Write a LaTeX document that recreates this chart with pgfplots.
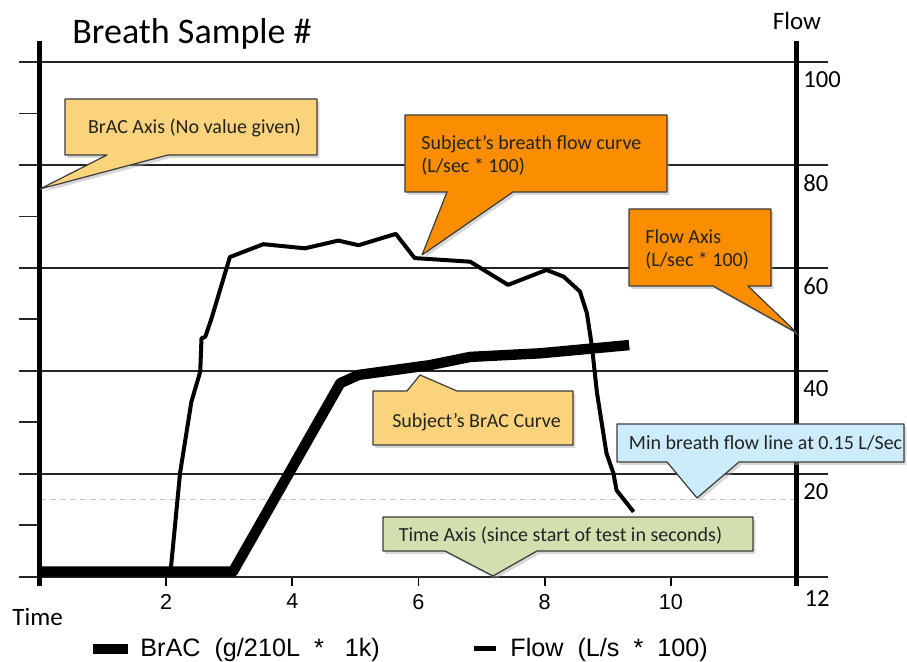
\documentclass[border=0pt]{standalone}
\usepackage{pgfplots}
\pgfplotsset{compat=1.18}
\usepackage{fontspec}
\setmainfont{Carlito}
\newfontfamily\arial{Liberation Sans}
\definecolor{lorange}{RGB}{252,211,125}
\definecolor{dorange}{RGB}{250,142,0}
\definecolor{lblue}{RGB}{204,236,252}
\definecolor{lgreen}{RGB}{210,224,176}
\definecolor{txt}{RGB}{35,35,35}
\definecolor{edge}{RGB}{60,60,60}
\begin{document}
\begin{tikzpicture}
\begin{axis}[
  x=31.54pt, y=2.5735pt,
  xmin=0, xmax=12, ymin=0, ymax=104,
  axis line style={draw=none},
  clip=false,
  xtick={2,4,6,8,10},
  xtick pos=lower,
  tick align=outside,
  major tick length=4.5pt,
  xtick style={line width=0.9pt, black},
  xticklabel style={font=\arial\fontsize{10.8}{12}\selectfont, inner sep=0pt, yshift=-4pt},
  ytick={20,40,60,80,100},
  ytick pos=right,
  ytick style={draw=none},
  yticklabel style={font=\fontsize{12.3}{14}\selectfont, anchor=west, inner sep=0pt, xshift=-1.5pt, yshift=-9pt},
  /pgf/number format/assume math mode=true,
]
% grid lines
\pgfplotsinvokeforeach{0,20,40,60,80,100}{
  \draw[line width=0.85pt, black!85] (axis cs:-0.333,#1) -- (axis cs:12.49,#1);
}
\pgfplotsinvokeforeach{10,30,50,70,90}{
  \draw[line width=0.85pt, black!85] (axis cs:-0.333,#1) -- (axis cs:0,#1);
}
% min flow dashed line
\draw[line width=0.6pt, black!22, dash pattern=on 3pt off 2pt] (axis cs:0,15) -- (axis cs:12,15);
% vertical axes
\draw[line width=2.5pt] (axis cs:0,-1.8) -- (axis cs:0,104.1);
\draw[line width=2.5pt] (axis cs:12,-1.8) -- (axis cs:12,104.1);
% BrAC curve
\addplot[line width=5.2pt, black, line join=round, no marks] coordinates {
 (0,1.0) (3.06,1.0) (4.76,37.6) (5.05,39.2) (6.18,41.1) (6.82,42.7) (7.93,43.4) (9.34,45.0)
};
% Flow curve
\addplot[line width=2pt, black, line join=round, no marks] coordinates {
 (2.07,1) (2.22,20.1) (2.40,34.0) (2.54,39.8) (2.56,46.3) (2.62,46.6) (2.72,50.2)
 (3.01,62.1) (3.54,64.6) (4.20,63.8) (4.73,65.3) (5.05,64.4) (5.64,66.6) (5.94,61.9)
 (6.82,61.2) (7.42,56.7) (8.03,59.6) (8.30,58.3) (8.56,55.4) (8.67,51.2) (8.75,44.7)
 (8.83,35.7) (8.98,24.0) (9.09,20.1) (9.14,16.8) (9.41,12.6)
};
\coordinate (P0) at (axis cs:-0.63412,112.046);
\end{axis}
\begin{scope}[shift={(P0)}, x=0.5pt, y=-0.5pt]
% shadows
\begin{scope}[transform canvas={shift={(1.2pt,-1.5pt)}}]
\fill[black!35, opacity=0.45] (65,99) -- (317,99) -- (317,155) -- (168,155) -- (40,189) -- (107,155) -- (65,155) -- cycle;
\fill[black!35, opacity=0.45] (405,115) -- (667,115) -- (667,192) -- (513,192) -- (422,255) -- (447,192) -- (405,192) -- cycle;
\fill[black!35, opacity=0.45] (629,209) -- (771,209) -- (771,286) -- (748,286) -- (797,333) -- (713,286) -- (629,286) -- cycle;
\fill[black!35, opacity=0.45] (373,391) -- (407,391) -- (420,375) -- (457,391) -- (573,391) -- (573,445) -- (373,445) -- cycle;
\fill[black!35, opacity=0.45] (617,424) -- (904,424) -- (904,462) -- (739,462) -- (697,498) -- (667,462) -- (617,462) -- cycle;
\fill[black!35, opacity=0.45] (383,517) -- (753,517) -- (753,551) -- (537,551) -- (493,576) -- (445,551) -- (383,551) -- cycle;
\end{scope}
% callouts
\filldraw[fill=lorange, draw=edge, line width=0.6pt, line join=round] (65,99) -- (317,99) -- (317,155) -- (168,155) -- (40,189) -- (107,155) -- (65,155) -- cycle;
\filldraw[fill=dorange, draw=edge, line width=0.6pt, line join=round] (405,115) -- (667,115) -- (667,192) -- (513,192) -- (422,255) -- (447,192) -- (405,192) -- cycle;
\filldraw[fill=dorange, draw=edge, line width=0.6pt, line join=round] (629,209) -- (771,209) -- (771,286) -- (748,286) -- (797,333) -- (713,286) -- (629,286) -- cycle;
\filldraw[fill=lorange, draw=edge, line width=0.6pt, line join=round] (373,391) -- (407,391) -- (420,375) -- (457,391) -- (573,391) -- (573,445) -- (373,445) -- cycle;
\filldraw[fill=lblue, draw=edge, line width=0.6pt, line join=round] (617,424) -- (904,424) -- (904,462) -- (739,462) -- (697,498) -- (667,462) -- (617,462) -- cycle;
\filldraw[fill=lgreen, draw=edge, line width=0.6pt, line join=round] (383,517) -- (753,517) -- (753,551) -- (537,551) -- (493,576) -- (445,551) -- (383,551) -- cycle;
% callout texts
\begin{scope}[every node/.style={inner sep=0pt, text=txt, font=\fontsize{10}{12}\selectfont}]
\node[anchor=base] at (194.5,134) {BrAC Axis (No value given)};
\node[anchor=base west] at (421,150) {Subject’s breath flow curve};
\node[anchor=base west] at (421,173) {(L/sec * 100)};
\node[anchor=base west] at (645,244) {Flow Axis};
\node[anchor=base west] at (645,266.5) {(L/sec * 100)};
\node[anchor=base] at (476.5,428) {Subject’s BrAC Curve};
\node[anchor=base west] at (628.5,449.5) {Min breath flow line at 0.15 L/Sec};
\node[anchor=base] at (560.5,541.5) {Time Axis (since start of test in seconds)};
\end{scope}
% titles and labels
\node[anchor=base west, inner sep=0pt, font=\fontsize{18}{21}\selectfont] at (72,44) {Breath Sample \#};
\node[anchor=base, inner sep=0pt, font=\fontsize{12.5}{14}\selectfont] at (797,30) {Flow};
\node[anchor=base west, inner sep=0pt, font=\fontsize{12.5}{14}\selectfont] at (12,626) {Time};
\node[anchor=base, inner sep=0pt, font=\fontsize{12.3}{14}\selectfont] at (817,606.5) {12};
% legend
\draw[line width=5.2pt] (93,649) -- (128,649);
\node[anchor=base west, inner sep=0pt, font=\arial\fontsize{12.6}{14}\selectfont] at (140,657) {BrAC\ \ (g/210L\ \ *\ \ \ 1k)};
\draw[line width=2.5pt] (474,649) -- (496,649);
\node[anchor=base west, inner sep=0pt, font=\arial\fontsize{12.6}{14}\selectfont] at (510,657) {Flow\ \ (L/s\ \ *\ \ 100)};
\pgfresetboundingbox
\path (0,0) rectangle (907,662);
\end{scope}
\end{tikzpicture}
\end{document}
